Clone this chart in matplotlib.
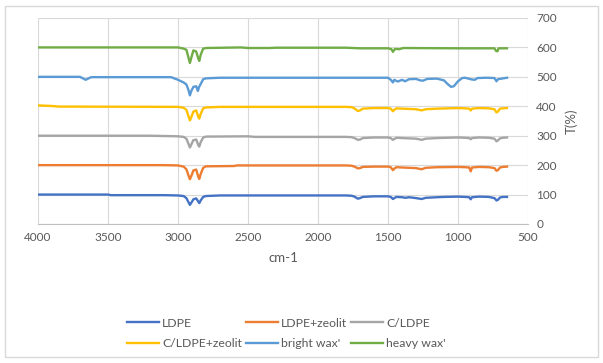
import matplotlib.pyplot as plt
from matplotlib.patches import Rectangle

# FTIR spectra, offset by 100 each (wavenumber cm-1, transmittance)
ldpe_wn = [4000, 3500, 3480, 3100, 3000, 2960, 2940, 2925, 2915, 2905, 2890, 2870, 2855, 2848, 2838, 2820, 2800,
           2700, 2300, 1800, 1760, 1740, 1715, 1700, 1680, 1600, 1500, 1480, 1465, 1455, 1440, 1400, 1375, 1350,
           1300, 1260, 1230, 1150, 1100, 1000, 950, 920, 909, 900, 850, 780, 740, 725, 715, 700, 680, 650]
ldpe_t = [100, 100, 98, 98, 97, 95, 88, 74, 65, 72, 84, 87, 76, 71, 80, 92, 95,
          97, 97, 97, 96, 93, 86, 88, 92, 94, 94, 92, 85, 88, 92, 91, 89, 91,
          88, 85, 89, 91, 92, 93, 92, 91, 84, 91, 93, 92, 88, 80, 82, 90, 92, 92]

zeo_wn = [4000, 3100, 3000, 2960, 2940, 2925, 2915, 2905, 2890, 2870, 2855, 2848, 2838, 2820, 2800, 2600,
          2580, 2300, 1800, 1760, 1740, 1715, 1700, 1680, 1600, 1500, 1480, 1465, 1455, 1440, 1400, 1300,
          1260, 1230, 1150, 1000, 950, 920, 909, 900, 850, 780, 740, 725, 715, 700, 680, 650]
zeo_t = [200, 200, 199, 195, 186, 165, 152, 163, 182, 185, 160, 153, 170, 191, 196, 197,
         199, 199, 199, 198, 195, 189, 190, 194, 195, 195, 193, 183, 188, 193, 192, 190,
         186, 191, 193, 194, 193, 192, 179, 192, 194, 193, 190, 181, 183, 192, 194, 195]

cldpe_wn = [4000, 3200, 3100, 3000, 2960, 2940, 2925, 2915, 2905, 2890, 2870, 2855, 2848, 2838, 2820, 2800,
            2500, 2450, 1800, 1760, 1740, 1715, 1700, 1680, 1600, 1500, 1480, 1465, 1455, 1440, 1400, 1300,
            1260, 1230, 1150, 1000, 950, 920, 909, 900, 850, 780, 740, 725, 715, 700, 680, 650]
cldpe_t = [300, 300, 299, 298, 296, 290, 272, 260, 270, 285, 287, 268, 263, 278, 294, 297,
           298, 296, 296, 295, 292, 286, 287, 292, 294, 294, 292, 286, 289, 293, 292, 290,
           286, 290, 292, 294, 293, 292, 288, 292, 294, 293, 290, 281, 284, 291, 293, 294]

czeo_wn = [4000, 3900, 3850, 3000, 2960, 2940, 2925, 2915, 2905, 2890, 2870, 2855, 2848, 2838, 2820, 2800,
           2700, 1800, 1760, 1740, 1715, 1700, 1680, 1600, 1500, 1480, 1465, 1455, 1440, 1400, 1300, 1260,
           1230, 1150, 1000, 950, 920, 909, 900, 850, 780, 740, 725, 715, 700, 680, 650]
czeo_t = [403, 401, 399, 398, 395, 388, 366, 352, 363, 382, 386, 364, 358, 374, 393, 396,
          398, 398, 397, 393, 384, 386, 392, 394, 394, 392, 383, 388, 393, 392, 390, 386,
          390, 392, 394, 393, 392, 386, 392, 394, 393, 390, 379, 382, 392, 393, 394]

bright_wn = [4000, 3700, 3660, 3620, 3050, 3000, 2960, 2940, 2925, 2915, 2905, 2890, 2870, 2858, 2850,
             2842, 2820, 2800, 2700, 1500, 1480, 1465, 1455, 1430, 1400, 1378, 1350, 1300, 1270, 1250,
             1220, 1150, 1100, 1075, 1050, 1030, 1000, 970, 950, 900, 880, 860, 800, 740, 725, 715, 650]
bright_t = [500, 500, 490, 499, 499, 490, 481, 474, 455, 437, 452, 466, 468, 452, 465,
            472, 492, 495, 497, 497, 490, 481, 490, 484, 490, 485, 492, 493, 488, 487,
            493, 494, 488, 476, 466, 468, 485, 496, 497, 491, 490, 496, 497, 496, 485, 492, 497]

heavy_wn = [4000, 3000, 2960, 2940, 2925, 2915, 2905, 2890, 2870, 2855, 2848, 2838, 2820, 2800, 2550,
            2500, 2350, 2300, 1800, 1700, 1500, 1475, 1465, 1450, 1420, 1390, 1000, 740, 728, 718, 710, 650]
heavy_t = [600, 600, 596, 592, 565, 547, 565, 590, 586, 562, 554, 575, 596, 598, 600,
           598, 598, 599, 599, 597, 597, 594, 585, 595, 594, 598, 597, 597, 588, 587, 597, 597]

names = ['LDPE', 'LDPE+zeolit', 'C/LDPE', 'C/LDPE+zeolit', "bright wax'", "heavy wax'"]
colors = ['#4472C4', '#ED7D31', '#A5A5A5', '#FFC000', '#5B9BD5', '#70AD47']
series = [(ldpe_wn, ldpe_t), (zeo_wn, zeo_t), (cldpe_wn, cldpe_t),
          (czeo_wn, czeo_t), (bright_wn, bright_t), (heavy_wn, heavy_t)]

plt.rcParams['font.family'] = ['Lato', 'DejaVu Sans']

fig = plt.figure(figsize=(6.03, 3.63), dpi=100)
ax = fig.add_axes([38/603, 1-224/363, 490/603, 206/363])

lines = []
for (wn, t), name, c in zip(series, names, colors):
    l, = ax.plot(wn, t, color=c, lw=1.7, label=name)
    lines.append(l)

ax.set_xlim(4000, 500)
ax.set_ylim(0, 700)
ax.set_xticks(range(4000, 499, -500))
ax.set_yticks(range(0, 701, 100))
ax.yaxis.tick_right()
ax.yaxis.set_label_position('right')
ax.grid(True, color='#d9d9d9', lw=0.8)
ax.set_axisbelow(True)
for s in ['top', 'left', 'right']:
    ax.spines[s].set_visible(False)
ax.spines['bottom'].set_color('#bfbfbf')
ax.tick_params(length=0, labelsize=8.5, labelcolor='#595959', pad=6)
ax.set_xlabel('cm-1', fontsize=9.5, color='#595959', labelpad=6)
ax.set_ylabel('T(%)', fontsize=9.5, color='#595959', labelpad=6)

# row-major legend order
order = [0, 3, 1, 4, 2, 5]
fig.legend([lines[i] for i in order], [names[i] for i in order],
           loc='center', bbox_to_anchor=(0.475, 1-333.5/363), ncol=3, frameon=False,
           fontsize=8.8, labelcolor='#595959', handlelength=2.6, handletextpad=0.3,
           columnspacing=0.3, labelspacing=0.8)

fig.patches.append(Rectangle((5/603, 6/363), 593/603, 351/363, transform=fig.transFigure,
                             fill=False, edgecolor='#d9d9d9', lw=1))

fig.savefig('out.png', dpi=100)
